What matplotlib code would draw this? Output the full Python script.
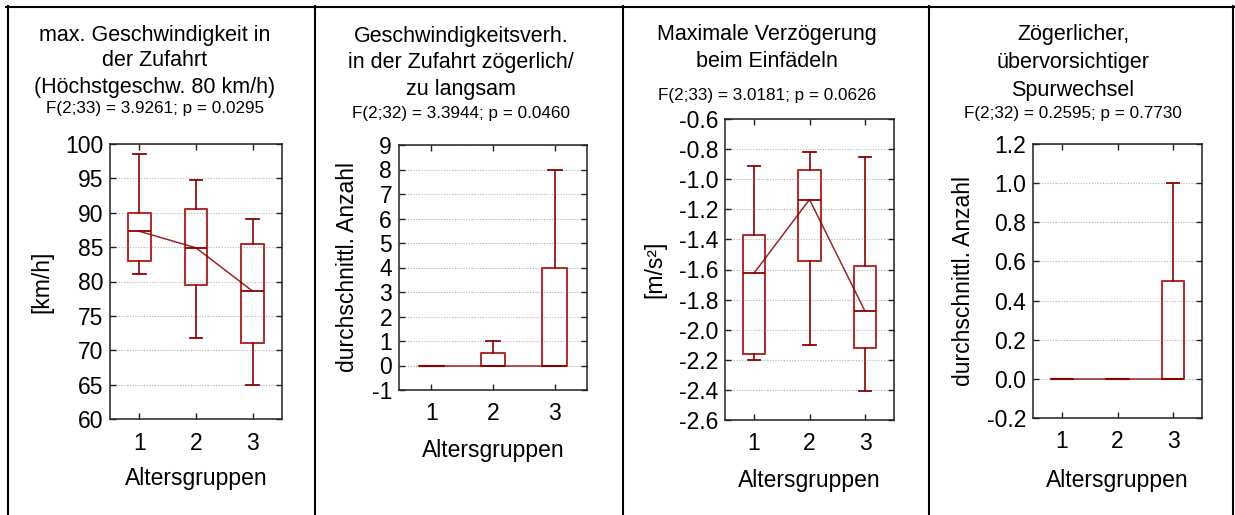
import matplotlib
matplotlib.use("Agg")
import matplotlib.pyplot as plt
from matplotlib.lines import Line2D
from matplotlib.ticker import FormatStrFormatter

plt.rcParams['font.family'] = ['Liberation Sans', 'DejaVu Sans']
plt.rcParams['axes.unicode_minus'] = False

W, H = 1235, 515
DPI = 100

groups = [1, 2, 3]
group_labels = ['1', '2', '3']
xlabel = 'Altersgruppen'

# Panel 1: max. Geschwindigkeit
speed_whislo = [81.1, 71.8, 64.9]
speed_q1 = [83.0, 79.5, 71.0]
speed_med = [87.3, 84.9, 78.6]
speed_q3 = [90.0, 90.6, 85.5]
speed_whishi = [98.6, 94.8, 89.1]

# Panel 2: Geschwindigkeitsverh. zögerlich
hes_whislo = [0, 0, 0]
hes_q1 = [0, 0, 0]
hes_med = [0, 0, 0]
hes_q3 = [0, 0.5, 4]
hes_whishi = [0, 1, 8]

# Panel 3: Maximale Verzögerung
dec_whislo = [-2.20, -2.10, -2.41]
dec_q1 = [-2.16, -1.545, -2.12]
dec_med = [-1.625, -1.135, -1.878]
dec_q3 = [-1.37, -0.94, -1.575]
dec_whishi = [-0.91, -0.82, -0.855]

# Panel 4: Zögerlicher Spurwechsel
lane_whislo = [0, 0, 0]
lane_q1 = [0, 0, 0]
lane_med = [0, 0, 0]
lane_q3 = [0, 0, 0.5]
lane_whishi = [0, 0, 1.0]

titles = [
    ['max. Geschwindigkeit in', 'der Zufahrt', '(Höchstgeschw. 80 km/h)'],
    ['Geschwindigkeitsverh.', 'in der Zufahrt zögerlich/', 'zu langsam'],
    ['Maximale Verzögerung', 'beim Einfädeln'],
    ['Zögerlicher,', 'übervorsichtiger', 'Spurwechsel'],
]
stats_text = [
    'F(2;33) = 3.9261; p = 0.0295',
    'F(2;32) = 3.3944; p = 0.0460',
    'F(2;33) = 3.0181; p = 0.0626',
    'F(2;32) = 0.2595; p = 0.7730',
]
ylabels = ['[km/h]', 'durchschnittl. Anzahl', '[m/s²]', 'durchschnittl. Anzahl']

panels = [
    (speed_whislo, speed_q1, speed_med, speed_q3, speed_whishi),
    (hes_whislo, hes_q1, hes_med, hes_q3, hes_whishi),
    (dec_whislo, dec_q1, dec_med, dec_q3, dec_whishi),
    (lane_whislo, lane_q1, lane_med, lane_q3, lane_whishi),
]
ylims = [(60, 100), (-1, 9), (-2.6, -0.6), (-0.2, 1.2)]
ysteps = [5, 1, 0.2, 0.2]
yfmts = ['%d', '%d', '%.1f', '%.1f']

# layout in pixels (left, right, top, bottom)
axes_px = [(110, 282, 144, 419), (399, 587, 145, 390),
           (725, 894, 119, 420), (1033, 1202, 144, 418)]
title_cx = [155, 461, 767, 1073]
title_base = [[41, 66, 93], [42, 68, 95], [40, 67], [40, 68, 96]]
stats_base = [113, 118, 100, 118]
ylabel_x = [42, 348, 655, 963]
xlabel_base = [485, 457, 487, 487]

TICK_FS = 16.5
LABEL_FS = 16.5
TITLE_FS = 15.5
STAT_FS = 12.3

fig = plt.figure(figsize=(W / DPI, H / DPI), dpi=DPI)

def fx(px):
    return px / W

def fy(py):
    return 1 - py / H

box_col = '#a83434'
line_col = '#8b0000'

for i in range(4):
    l, r, t, b = axes_px[i]
    ax = fig.add_axes([fx(l), fy(b), (r - l) / W, (b - t) / H])
    wl, q1, med, q3, wh = panels[i]
    stats = []
    for k in range(3):
        stats.append(dict(whislo=wl[k], q1=q1[k], med=med[k], q3=q3[k],
                          whishi=wh[k], fliers=[], label=group_labels[k]))
    ax.bxp(stats, positions=groups, widths=0.4, capwidths=0.22,
           showfliers=False,
           boxprops=dict(color=box_col, linewidth=1.5),
           medianprops=dict(color=line_col, linewidth=1.3),
           whiskerprops=dict(color=line_col, linewidth=1.2),
           capprops=dict(color=line_col, linewidth=1.3))
    ax.plot(groups, med, color=line_col, linewidth=1.1, alpha=0.85)
    ax.set_xlim(0.48, 3.52)
    y0, y1 = ylims[i]
    ax.set_ylim(y0, y1)
    n = int(round((y1 - y0) / ysteps[i]))
    ticks = [y0 + j * ysteps[i] for j in range(n + 1)]
    ax.set_yticks(ticks)
    ax.yaxis.set_major_formatter(FormatStrFormatter(yfmts[i]))
    ax.set_xticks(groups)
    ax.set_xticklabels(group_labels)
    ax.grid(axis='y', linestyle=(0, (1, 1.5)), color='#b0b0b0', linewidth=0.8)
    ax.set_axisbelow(True)
    ax.tick_params(direction='in', length=4, width=1, top=True, right=True,
                   labelsize=TICK_FS, color='#222222')
    ax.tick_params(axis='y', pad=5)
    ax.tick_params(axis='x', pad=9)
    for s in ax.spines.values():
        s.set_linewidth(1.1)
        s.set_color('#222222')
    # text
    for line, yb in zip(titles[i], title_base[i]):
        fig.text(fx(title_cx[i]), fy(yb), line, ha='center', va='baseline',
                 fontsize=TITLE_FS)
    fig.text(fx(title_cx[i]), fy(stats_base[i]), stats_text[i], ha='center',
             va='baseline', fontsize=STAT_FS)
    fig.text(fx(ylabel_x[i]), fy((t + b) / 2), ylabels[i], rotation=90,
             ha='center', va='center', fontsize=LABEL_FS)
    fig.text(fx((l + r) / 2), fy(xlabel_base[i]), xlabel, ha='center',
             va='baseline', fontsize=LABEL_FS)

# frame lines
frame_lw = 1.5
fig.add_artist(Line2D([fx(6), fx(1235)], [fy(7), fy(7)], color='black', lw=frame_lw))
for xv in [7.5, 315, 623, 929, 1233]:
    fig.add_artist(Line2D([fx(xv), fx(xv)], [fy(6.3), fy(515)], color='black', lw=frame_lw))

fig.savefig('out.png', dpi=DPI)
